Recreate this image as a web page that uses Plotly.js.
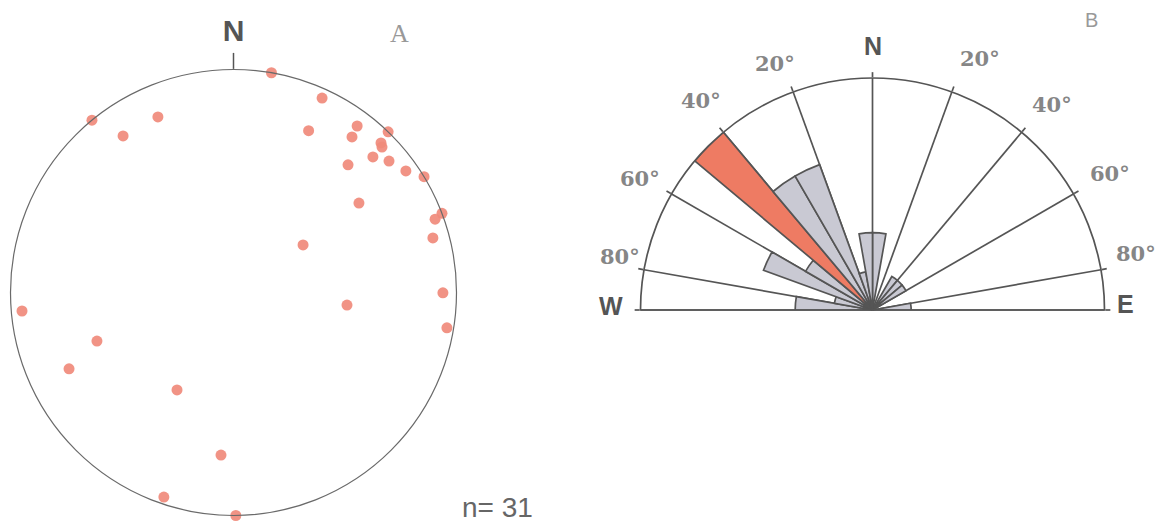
<!DOCTYPE html>
<html>
<head>
<meta charset="utf-8">
<script src="https://cdn.plot.ly/plotly-3.0.1.min.js"></script>
<style>html,body{margin:0;padding:0;background:#fff;}#chart{width:1167px;height:528px;}</style>
</head>
<body>
<div id="chart"></div>
<script>
// Stereonet A: pole azimuth (deg from N, clockwise) and normalized radial distance (1 = primitive circle)
const poleAzimuth = [9.8, 24.5, 320.6, 336.7, 324.8, 24.9, 36.6, 37.3, 43.9, 44.6, 45.6, 45.8, 49.8, 41.9, 54.8, 58.7, 54.5, 69.2, 70.0, 74.7, 55.6, 90.1, 96.3, 99.4, 265.0, 250.4, 245.1, 210.1, 184.4, 198.8, 179.4];
const poleRadius  = [1.0, 0.958, 1.0, 0.857, 0.859, 0.80, 0.93, 0.877, 1.0, 0.942, 0.932, 0.872, 0.913, 0.769, 0.946, 1.0, 0.691, 1.0, 0.962, 0.927, 0.378, 0.939, 0.512, 0.970, 0.952, 0.650, 0.813, 0.505, 0.731, 0.969, 1.0];

// Rose diagram B: 10-degree bins (bin centre azimuth) and counts
const binCenter = [5, 35, 45, 55, 85, 275, 285, 295, 305, 315, 325, 335, 345, 355];
const binCount  = [2, 1, 1, 1, 1, 2, 1, 3, 2, 6, 4, 4, 1, 2];

// Angular ticks of the rose (negative = west of north)
const roseTickVals = [-90, -80, -60, -40, -20, 0, 20, 40, 60, 80, 90];
const roseTickText = ['W', '80°', '60°', '40°', '20°', 'N', '20°', '40°', '60°', '80°', 'E'];

const maxCount = Math.max(...binCount);
const barColors = binCount.map(c => c === maxCount ? '#ee7b63' : '#c9c9d3');

const W = 1167, H = 528;
// rose geometry in pixels
const roseCx = 872.5, roseCy = 310, roseR = 232;
const roseDomX = [(roseCx - roseR) / W, (roseCx + roseR) / W];
const roseDomY = [1 - roseCy / H, 1 - (roseCy - roseR) / H];

// pixel placement of the rose tick labels (same order as roseTickText)
const labelPx = [[625, 306], [620, 256], [640, 178], [700.5, 100], [775, 63.5], [873, 46], [980, 59], [1052, 104.5], [1110, 173], [1136, 253.5], [1115, 304]];

const roseLabels = roseTickText.map((t, i) => {
  const sans = (t === 'N' || t === 'E' || t === 'W');
  const xanchor = t === 'W' ? 'right' : (t === 'E' ? 'left' : 'center');
  return {
    text: t, x: labelPx[i][0] / W, y: 1 - labelPx[i][1] / H, xref: 'paper', yref: 'paper', showarrow: false,
    xanchor: xanchor, yanchor: 'middle',
    font: sans ? {family: 'Liberation Sans', size: 25, color: '#555', weight: 'bold'}
               : {family: 'DejaVu Serif', size: 21, color: '#868686', weight: 'bold'}
  };
});

const traces = [
  {
    type: 'scatterpolar',
    subplot: 'polar',
    mode: 'markers',
    theta: poleAzimuth,
    r: poleRadius,
    cliponaxis: false,
    marker: {size: 11, color: '#f08a7b', opacity: 0.92},
    hoverinfo: 'skip'
  },
  {
    type: 'barpolar',
    subplot: 'polar2',
    theta: binCenter,
    r: binCount,
    width: binCenter.map(() => 10),
    marker: {color: barColors, line: {color: '#555', width: 1.7}},
    hoverinfo: 'skip'
  }
];

const layout = {
  width: W, height: H,
  autosize: false,
  margin: {l: 0, r: 0, t: 0, b: 0},
  paper_bgcolor: '#fff',
  plot_bgcolor: '#fff',
  showlegend: false,
  polar: {
    domain: {x: [10.5 / W, 456.5 / W], y: [1 - 515.5 / H, 1 - 69.5 / H]},
    bgcolor: 'rgba(0,0,0,0)',
    radialaxis: {visible: false, range: [0, 1]},
    angularaxis: {
      rotation: 90, direction: 'clockwise',
      showline: true, linecolor: '#6a6a6a', linewidth: 1.2,
      showgrid: false,
      tickmode: 'array', tickvals: [0], ticktext: ['<b>N</b>'],
      ticks: 'outside', ticklen: 16, tickcolor: '#555', tickwidth: 1.5,
      tickfont: {family: 'Liberation Sans', size: 30, color: '#555'}
    }
  },
  polar2: {
    domain: {x: roseDomX, y: roseDomY},
    sector: [0, 180],
    bgcolor: 'rgba(0,0,0,0)',
    radialaxis: {visible: false, range: [0, maxCount], showgrid: false},
    angularaxis: {
      rotation: 90, direction: 'clockwise',
      showline: true, linecolor: '#555', linewidth: 1.7,
      showgrid: true, gridcolor: '#555', gridwidth: 1.7,
      tickmode: 'array', tickvals: roseTickVals, ticktext: roseTickText,
      showticklabels: false,
      ticks: 'outside', ticklen: 5, tickcolor: '#555', tickwidth: 1.7
    }
  },
  annotations: [
    {text: 'A', x: 399 / W, y: 1 - 33.5 / H, xref: 'paper', yref: 'paper', showarrow: false,
     xanchor: 'center', yanchor: 'middle',
     font: {family: 'Liberation Serif', size: 26, color: '#999'}},
    {text: 'B', x: 1091.5 / W, y: 1 - 20.5 / H, xref: 'paper', yref: 'paper', showarrow: false,
     xanchor: 'center', yanchor: 'middle',
     font: {family: 'Liberation Sans', size: 20, color: '#999'}},
    {text: 'n= 31', x: 497 / W, y: 1 - 507 / H, xref: 'paper', yref: 'paper', showarrow: false,
     xanchor: 'center', yanchor: 'middle',
     font: {family: 'Liberation Sans', size: 28, color: '#666'}}
  ].concat(roseLabels)
};

Plotly.newPlot('chart', traces, layout, {displayModeBar: false, staticPlot: true});
</script>
</body>
</html>
